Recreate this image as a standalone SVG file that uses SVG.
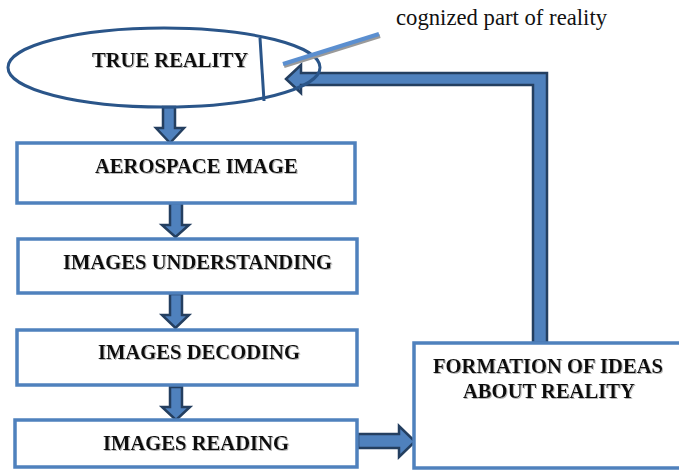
<svg xmlns="http://www.w3.org/2000/svg" width="679" height="470" viewBox="0 0 679 470">
<style>
.box{fill:#fff;stroke:#4f81bd;stroke-width:3.5}
.lbl{font-family:"Liberation Serif","Times New Roman",serif;font-weight:bold;font-size:20.6px;fill:#111}
.arr{fill:#4f81bd;stroke:#243f60;stroke-width:2.5;stroke-linejoin:miter}
.note{font-family:"Liberation Serif","Times New Roman",serif;font-size:22.7px;fill:#111}
</style>
<defs>
<filter id="sh" x="-5%" y="-20%" width="110%" height="140%">
<feDropShadow dx="1" dy="1" stdDeviation="0.6" flood-color="#888" flood-opacity="0.6"/>
</filter>
</defs>
<rect width="679" height="470" fill="#fff"/>
<g id="connectors">
<polygon class="arr" points="163,107 175,107 175,128 184,128 170,143 156,128 163,128"/>
<polygon class="arr" points="170,203 182,203 182,225 189,225 175.5,237 162,225 170,225"/>
<polygon class="arr" points="170,294 182,294 182,315 189,315 175.5,328 162,315 170,315"/>
<polygon class="arr" points="170,387 182,387 182,407 190,407 176,420 162,407 170,407"/>
<polygon class="arr" points="358,434 399,434 399,426 415,441.5 399,457 399,448 358,448"/>
<polygon class="arr" points="286,79 301,65 301,73 547,73 547,343 533,343 533,85 301,85 301,93"/>
</g>
<g id="true-reality">
<ellipse cx="164" cy="67.5" rx="156" ry="39.5" fill="none" stroke="#2a5589" stroke-width="3"/>
<line x1="260" y1="38" x2="264" y2="101" stroke="#2a5589" stroke-width="3"/>
<text class="lbl" x="92" y="67" filter="url(#sh)">TRUE REALITY</text>
</g>
<g id="cognized-label">
<line x1="284" y1="66" x2="380" y2="36" stroke="#9a9a9a" stroke-width="4"/>
<line x1="283" y1="64" x2="379" y2="34" stroke="#5b8fd0" stroke-width="4"/>
<text class="note" x="396" y="25">cognized part of reality</text>
</g>
<g id="aerospace-image">
<rect class="box" x="17" y="143" width="338" height="60"/>
<text class="lbl" x="95" y="173" filter="url(#sh)">AEROSPACE IMAGE</text>
</g>
<g id="images-understanding">
<rect class="box" x="18" y="239" width="339" height="54"/>
<text class="lbl" x="63" y="269" filter="url(#sh)">IMAGES UNDERSTANDING</text>
</g>
<g id="images-decoding">
<rect class="box" x="17" y="330" width="340" height="55"/>
<text class="lbl" x="98" y="359" filter="url(#sh)">IMAGES DECODING</text>
</g>
<g id="images-reading">
<rect class="box" x="15" y="420" width="342" height="47"/>
<text class="lbl" x="103" y="450" filter="url(#sh)">IMAGES READING</text>
</g>
<g id="formation">
<rect class="box" x="414" y="343" width="270" height="125"/>
<text class="lbl" x="433" y="373" filter="url(#sh)">FORMATION OF IDEAS</text>
<text class="lbl" x="463" y="398" filter="url(#sh)">ABOUT REALITY</text>
</g>
</svg>
